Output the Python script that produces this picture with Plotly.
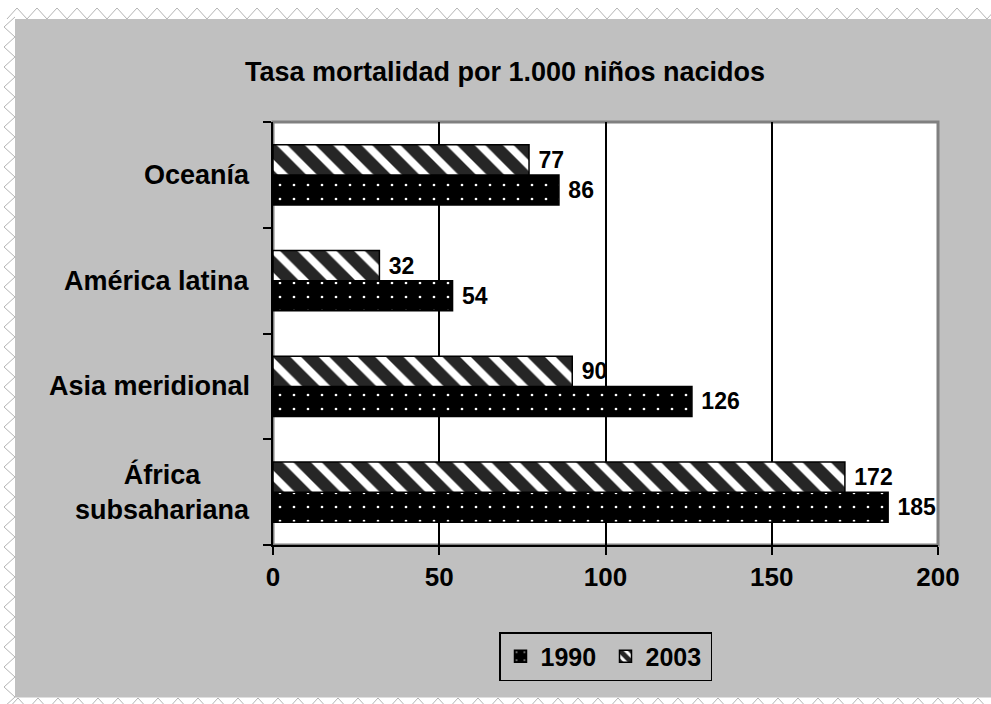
import plotly.graph_objects as go

categories = ["África subsahariana", "Asia meridional", "América latina", "Oceanía"]
category_labels = ["África<br>subsahariana", "Asia meridional", "América latina", "Oceanía"]
values_1990 = [185, 126, 54, 86]
values_2003 = [172, 90, 32, 77]
x_ticks = [0, 50, 100, 150, 200]

W, H = 991, 704
ML, MR, MT, MB = 273, 53, 122, 159
PW, PH = W - ML - MR, H - MT - MB
FONT = "Liberation Sans, Arial, sans-serif"


def px(x):
    return (x - ML) / PW


def py(y):
    return (MT + PH - y) / PH


fig = go.Figure()
fig.add_trace(go.Bar(
    name="1990", y=categories, x=values_1990, orientation="h",
    marker=dict(color="black", line=dict(color="black", width=1.5),
                pattern=dict(shape=".", bgcolor="black", fgcolor="white", fgopacity=1,
                             size=14, solidity=0.03)),
    text=values_1990, texttemplate="\u00a0%{x}", textposition="outside", cliponaxis=False,
    constraintext="none",
    textfont=dict(family=FONT, size=23, color="black", weight="bold"),
))
fig.add_trace(go.Bar(
    name="2003", y=categories, x=values_2003, orientation="h",
    marker=dict(color="white", line=dict(color="black", width=1.5),
                pattern=dict(shape="\\", bgcolor="white", fgcolor="#262626", fgopacity=1,
                             size=20, solidity=0.62)),
    text=values_2003, texttemplate="\u00a0%{x}", textposition="outside", cliponaxis=False,
    constraintext="none",
    textfont=dict(family=FONT, size=23, color="black", weight="bold"),
))

shapes = []
# grey chart area
shapes.append(dict(type="rect", xref="paper", yref="paper", x0=px(15), x1=px(W + 5), y0=py(697.5), y1=py(19),
                   fillcolor="#c0c0c0", line=dict(width=0), layer="below"))
# plot area with grey frame
shapes.append(dict(type="rect", xref="paper", yref="paper", x0=0, x1=1, y0=0, y1=1,
                   fillcolor="white", line=dict(color="#808080", width=3), layer="below"))

# zigzag page border
zz = "#b4b4b4"
pts = []
x = 7
while x < W + 20:
    pts.append((x, 19))
    pts.append((x + 10, 8))
    x += 20
path = "M " + " L ".join(f"{px(a):.5f},{py(b):.5f}" for a, b in pts)
shapes.append(dict(type="path", xref="paper", yref="paper", path=path, line=dict(color=zz, width=1)))
pts = []
x = 8
while x < W + 20:
    pts.append((x, 709))
    pts.append((x + 10, 698))
    x += 20
path = "M " + " L ".join(f"{px(a):.5f},{py(b):.5f}" for a, b in pts)
shapes.append(dict(type="path", xref="paper", yref="paper", path=path, line=dict(color=zz, width=1)))
pts = []
y = 17
while y < H + 20:
    pts.append((15, y))
    pts.append((4, y + 10))
    y += 20
path = "M " + " L ".join(f"{px(a):.5f},{py(b):.5f}" for a, b in pts)
shapes.append(dict(type="path", xref="paper", yref="paper", path=path, line=dict(color=zz, width=1)))

annotations = []
for cat, lab in zip(categories, category_labels):
    annotations.append(dict(xref="paper", yref="y", x=0, y=cat, text=lab, showarrow=False,
                            xanchor="right", yanchor="middle", xshift=-21, align="center",
                            font=dict(family=FONT, size=27, color="black", weight="bold")))

fig.update_layout(
    width=W, height=H,
    margin=dict(l=ML, r=MR, t=MT, b=MB, pad=0),
    paper_bgcolor="white", plot_bgcolor="rgba(0,0,0,0)",
    barmode="group", bargap=0.43, bargroupgap=0,
    title=dict(text="Tasa mortalidad por 1.000 niños nacidos", x=505 / W, xanchor="center",
               y=1 - 72 / H, yanchor="middle", yref="container",
               font=dict(family=FONT, size=27, color="black", weight="bold")),
    xaxis=dict(range=[0, 200], tickvals=x_ticks, ticktext=[str(v) for v in x_ticks],
               showgrid=True, gridcolor="black", gridwidth=2,
               showline=True, linecolor="black", linewidth=2,
               ticks="outside", ticklen=8, tickwidth=2, tickcolor="black",
               zeroline=False, fixedrange=True,
               tickfont=dict(family=FONT, size=26, color="black", weight="bold")),
    yaxis=dict(type="category", categoryorder="array", categoryarray=categories,
               showticklabels=False, showgrid=False,
               showline=True, linecolor="black", linewidth=2,
               ticks="outside", ticklen=8, tickwidth=2, tickcolor="black", tickson="boundaries",
               fixedrange=True),
    showlegend=True,
    legend=dict(orientation="h", x=0.5, xanchor="center", y=py(632), yanchor="top",
                bgcolor="#c0c0c0", bordercolor="black", borderwidth=1.5,
                traceorder="normal", entrywidth=60, entrywidthmode="pixels",
                font=dict(family=FONT, size=25, color="black", weight="bold"),
                itemwidth=30),
    shapes=shapes,
    annotations=annotations,
)

fig.write_html("out.html",
               config={"displayModeBar": False},
               post_script="document.body.style.margin='0px';"
                           "document.documentElement.style.overflow='hidden';")
